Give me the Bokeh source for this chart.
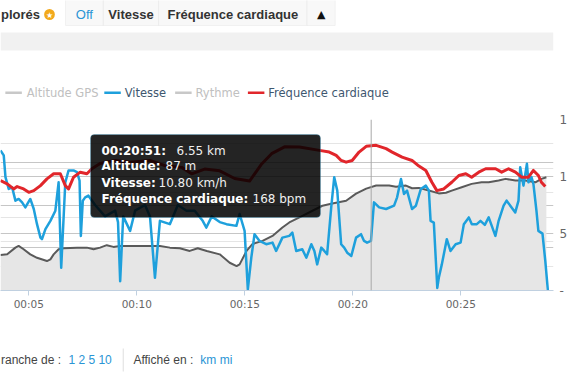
from bokeh.plotting import figure
from bokeh.layouts import column
from bokeh.models import Range1d, FixedTicker, Grid, Label, BoxAnnotation, Span, LinearAxis
from bokeh.embed import file_html
from bokeh.resources import INLINE

# ---------------- data (time in minutes) ----------------
alt_t = [3.69, 4.00, 4.38, 4.53, 4.76, 5.07, 5.38, 5.84, 6.00, 6.15, 6.38, 6.61, 7.23, 7.69, 8.00,
         8.30, 8.61, 8.92, 9.22, 9.84, 10.61, 11.07, 11.53, 11.99, 12.45, 12.82, 13.24, 13.84,
         14.30, 14.62, 14.76, 15.08, 15.36, 15.82, 16.28, 16.74, 17.06, 17.53, 18.13, 18.59,
         19.05, 19.69, 20.15, 20.62, 21.08, 21.68, 22.00, 22.46, 22.74, 23.06, 23.52, 23.98,
         24.31, 24.58, 25.04, 25.50, 25.96, 26.29, 26.75, 27.07, 27.53, 27.99, 28.45, 28.73, 28.96]
alt_m = [29.1, 29.6, 35.1, 36.5, 33.8, 29.6, 26.8, 24.1, 25.5, 29.6, 33.8, 34.6, 35.1, 35.1, 33.8,
         35.1, 37.1, 35.7, 36.5, 36.5, 36.5, 36.5, 35.1, 34.6, 32.4, 34.6, 32.4, 29.6,
         22.7, 20.0, 21.4, 32.4, 38.1, 40.6, 44.7, 51.6, 55.7, 59.8, 65.3, 69.4,
         71.3, 73.5, 79.3, 83.4, 85.9, 85.9, 85.0, 85.9, 83.7, 84.0, 81.8, 79.5,
         80.0, 81.8, 84.5, 87.3, 88.6, 88.6, 90.0, 91.4, 90.0, 90.0, 88.6, 91.4, 92.7]

hr_t = [3.69, 4.00, 4.30, 4.46, 4.76, 5.00, 5.23, 5.54, 5.84, 6.15, 6.46, 6.69, 6.84, 7.07, 7.38,
        7.69, 7.92, 8.30, 9.00, 9.69, 10.61, 11.30, 12.08, 12.54, 13.14, 13.84, 14.53, 15.22,
        15.78, 16.24, 16.84, 17.53, 18.45, 18.91, 19.23, 19.46, 19.69, 19.97, 20.29, 20.62,
        21.08, 21.54, 21.82, 22.28, 22.74, 23.06, 23.38, 23.66, 23.89, 24.21, 24.58, 24.91,
        25.23, 25.50, 25.83, 26.15, 26.61, 26.89, 27.21, 27.53, 27.81, 28.13, 28.36, 28.59,
        28.73, 28.91]
hr_bpm = [128.6, 124.7, 118.8, 121.5, 118.8, 114.8, 116.8, 122.7, 130.6, 136.5, 136.5, 122.7,
          118.8, 132.5, 138.4, 136.5, 142.4, 148.6, 152.0, 150.0, 152.0, 146.0, 144.0, 136.5,
          142.0, 140.0, 131.0, 128.0, 148.0, 160.0, 168.0, 167.8, 163.9, 161.9, 158.0, 152.1,
          150.1, 152.1, 161.9, 168.6, 169.8, 165.9, 161.9, 156.0, 152.1, 145.5, 140.4, 126.6,
          116.8, 118.8, 126.6, 134.5, 136.5, 132.5, 138.4, 142.4, 142.4, 138.4, 142.4, 138.4,
          132.5, 132.5, 140.4, 134.5, 126.6, 121.5]

spd_t = [3.69, 3.84, 3.92, 4.07, 4.23, 4.38, 4.53, 4.69, 4.84, 5.07, 5.23, 5.38, 5.54, 5.61, 5.77,
         6.00, 6.23, 6.38, 6.50, 6.69, 6.84, 7.07, 7.23, 7.35, 7.41, 7.50, 7.61, 7.76, 8.07, 8.53,
         9.00, 9.13, 9.23, 9.37, 9.69, 9.92, 10.38, 10.61, 10.84, 11.07, 11.53, 11.90, 12.30,
         12.68, 13.05, 13.22, 13.47, 13.84, 14.15, 14.61, 14.76, 14.99, 15.14, 15.30, 15.45,
         15.68, 15.99, 16.28, 16.45, 16.74, 17.06, 17.20, 17.38, 17.66, 17.85, 18.08, 18.22,
         18.35, 18.54, 18.68, 18.81, 19.00, 19.14, 19.28, 19.46, 19.60, 19.74, 19.93, 20.15,
         20.38, 20.52, 20.66, 20.84, 20.98, 21.22, 21.54, 21.91, 22.05, 22.23, 22.37, 22.51,
         22.74, 22.92, 23.15, 23.38, 23.52, 23.60, 23.75, 23.91, 23.98, 24.12, 24.35, 24.52,
         24.76, 24.99, 25.14, 25.37, 25.51, 25.74, 25.91, 26.11, 26.29, 26.60, 26.75, 26.98,
         27.12, 27.35, 27.52, 27.67, 27.75, 27.90, 28.06, 28.13, 28.27, 28.36, 28.50, 28.59,
         28.78, 28.91, 29.03]
spd_kmh = [12.29, 11.85, 9.94, 8.91, 9.05, 7.88, 8.03, 7.73, 7.29, 8.03, 7.15, 5.82, 4.64, 4.50, 5.38,
           6.11, 7.00, 9.49, 1.99, 9.49, 10.53, 10.53, 10.38, 9.64, 4.79, 7.88, 8.17, 8.32, 7.5, 6.5,
           7.0, 6.0, 0.82, 6.5, 5.23, 7.0, 7.5, 6.5, 1.11, 6.11, 5.82, 7.5, 7.0,
           7.0, 6.11, 5.52, 6.5, 6.0, 5.82, 5.67, 6.71, 5.23, 0.09, 2.88, 4.94,
           4.35, 4.06, 4.20, 3.47, 4.64, 4.79, 5.08, 3.47, 3.62, 2.88, 4.06, 3.47,
           2.29, 3.76, 3.47, 3.18, 7.29, 9.94, 8.76, 4.06, 3.76, 3.32, 3.03, 4.64,
           4.94, 4.35, 4.20, 4.35, 7.73, 7.29, 7.15, 7.44, 8.17, 9.79, 8.47, 8.76,
           7.15, 7.44, 8.91, 9.20, 8.76, 6.11, 5.96, 0.23, 1.11, 2.29, 4.50, 3.47,
           4.06, 4.20, 5.82, 6.41, 5.82, 5.82, 6.11, 5.76, 6.41, 4.79, 6.11, 7.44,
           7.88, 7.29, 6.85, 7.88, 10.82, 9.20, 11.12, 9.49, 9.94, 9.35, 7.0, 5.23,
           4.99, 2.59, 0.0]

x_tick_vals = [5, 10, 15, 20, 25]
x_tick_labels = ["00:05", "00:10", "00:15", "00:20", "00:25"]
alt_grid_vals = [0, 35, 70, 105, 140]
spd_tick_vals = [0, 5, 10, 15]
spd_tick_labels = ["-", "5", "1", "1"]

legend_names = ["Altitude GPS", "Vitesse", "Rythme", "Fréquence cardiaque"]
legend_active = [False, True, False, True]
legend_colors = ["#c8c8c8", "#1ea0dc", "#c8c8c8", "#e1262b"]

cursor_t = 20 + 51 / 60
tip_keys = ["00:20:51:", "Altitude:", "Vitesse:", "Fréquence cardiaque:"]
tip_vals = ["6.55 km", "87 m", "10.80 km/h", "168 bpm"]

buttons = ["Off", "Vitesse", "Fréquence cardiaque", "▲"]

W = 570
TOP_H = 109      # page rows 0..109
CHART_H = 211    # page rows 109..320 (frame 119..290)
BOT_H = 60       # page rows 320..380


def blank(height, y0):
    f = figure(width=W, height=height, output_backend="svg", toolbar_location=None,
               x_range=Range1d(0, W), y_range=Range1d(y0 + height, y0),
               x_axis_location=None, y_axis_location=None, min_border=0)
    f.outline_line_color = None
    f.grid.visible = False
    f.background_fill_color = "white"
    f.border_fill_color = "white"
    return f


def lab(f, x, y, text, size="12px", color="#333333", font="Liberation Sans", style="normal",
        align="left", units="data"):
    f.add_layout(Label(x=x, y=y, x_units=units, y_units=units, text=text,
                       text_baseline="middle", text_align=align, text_font=font,
                       text_font_size=size, text_color=color, text_font_style=style))


def box(f, l, r, t, b, fill, line=None, alpha=1.0, radius=0, lw=1, units="data"):
    f.add_layout(BoxAnnotation(left=l, right=r, top=t, bottom=b,
                               left_units=units, right_units=units,
                               top_units=units, bottom_units=units,
                               fill_color=fill, fill_alpha=alpha,
                               line_color=line, line_width=lw, border_radius=radius))


# ---------------- header + legend ----------------
top = blank(TOP_H, 0)
box(top, 0, 570, 32, 50, "#f1f1f1")
lab(top, 0.5, 14, "plorés", size="13px", style="bold", color="#333333")
box(top, 45, 56, 8.5, 19.5, "#f2a91c", radius=6)
lab(top, 50.5, 14.5, "★", size="8px", color="white", font="DejaVu Sans", align="center")
btn_edges = [67, 106, 163, 316, 345]
for i, name in enumerate(buttons):
    box(top, btn_edges[i], btn_edges[i + 1], -2, 25, "#f8f8f8", line="#d9d9d9")
for i, name in enumerate(buttons):
    mid = (btn_edges[i] + btn_edges[i + 1]) / 2
    if i == 0:
        lab(top, mid, 13.5, name, size="13px", color="#2a95d5", align="center")
    elif i == 3:
        lab(top, mid, 13.5, name, size="11px", color="#111111", font="DejaVu Sans", align="center")
    else:
        lab(top, mid, 13.5, name, size="13px", color="#333333", style="bold", align="center")

leg_sym = [5, 107, 180, 255]
leg_txt = [27, 128, 201, 276]
for i, name in enumerate(legend_names):
    box(top, leg_sym[i], leg_sym[i] + 17, 91, 93.5, legend_colors[i])
    lab(top, leg_txt[i], 92.5, name, size="11.5px", font="DejaVu Sans",
        color="#3E576F" if legend_active[i] else "#C0C0C0")

# ---------------- chart ----------------
p = figure(width=W, height=CHART_H, output_backend="svg", toolbar_location=None,
           x_range=Range1d(3.69, 29.29), y_range=Range1d(0, 140),
           y_axis_location=None, min_border_left=0, min_border_right=15,
           min_border_top=10, min_border_bottom=30)
p.extra_y_ranges = {"hr": Range1d(0, 200), "spd": Range1d(0, 15)}
p.outline_line_color = None
p.background_fill_color = "white"
p.border_fill_color = "white"
p.xgrid.visible = False

p.add_layout(Grid(dimension=1, ticker=FixedTicker(ticks=alt_grid_vals),
                  grid_line_color="#c6c6c6", grid_line_width=1))
p.add_layout(Grid(dimension=1, ticker=FixedTicker(ticks=spd_tick_vals), y_range_name="spd",
                  grid_line_color="#c6c6c6", grid_line_width=1))

ax = p.xaxis[0]
ax.ticker = FixedTicker(ticks=x_tick_vals)
ax.major_label_overrides = dict(zip(x_tick_vals, x_tick_labels))
ax.axis_line_color = "#C0D0E0"
ax.major_tick_line_color = "#C0D0E0"
ax.major_tick_out = 5
ax.major_tick_in = 0
ax.minor_tick_line_color = None
ax.major_label_text_color = "#666666"
ax.major_label_text_font = "DejaVu Sans"
ax.major_label_text_font_size = "10.5px"
ax.major_label_standoff = 2

ry = LinearAxis(y_range_name="spd", ticker=FixedTicker(ticks=spd_tick_vals),
                major_label_overrides=dict(zip(spd_tick_vals, spd_tick_labels)))
ry.axis_line_color = None
ry.major_tick_line_color = None
ry.minor_tick_line_color = None
ry.major_tick_out = 0
ry.major_tick_in = 0
ry.major_label_standoff = 6
ry.major_label_text_color = "#666666"
ry.major_label_text_font = "DejaVu Sans"
ry.major_label_text_font_size = "12px"
p.add_layout(ry, "right")

p.varea(x=alt_t, y1=0, y2=alt_m, fill_color="#e6e6e6")
p.line(alt_t, alt_m, line_color="#5a5a5a", line_width=2, line_join="round")
p.line(spd_t, spd_kmh, y_range_name="spd", line_color="#1ea0dc", line_width=2.5, line_join="round")
p.line(hr_t, hr_bpm, y_range_name="hr", line_color="#e1262b", line_width=3, line_join="round")

p.add_layout(Span(location=cursor_t, dimension="height", line_color="#a8a8a8", line_width=1))

# tooltip (canvas units of the chart figure: page y - 109)
oy = 109
box(p, 90, 320, 134 - oy, 217 - oy, "black", line="#49b3e3", alpha=0.86, radius=4, units="canvas")
tip_y = [150.5, 165.5, 182, 198.5]
tip_vx = [176, 165, 158, 252]
for i in range(4):
    lab(p, 101, tip_y[i] - oy, tip_keys[i], size="12px", font="DejaVu Sans", style="bold",
        color="#ffffff", units="canvas")
    lab(p, tip_vx[i], tip_y[i] - oy, tip_vals[i], size="12px", font="DejaVu Sans",
        color="#f0f0f0", units="canvas")

# ---------------- footer ----------------
bot = blank(BOT_H, 320)
lab(bot, 0.5, 359, "ranche de :", size="12px", color="#444444")
lab(bot, 70, 359, "1 2 5 10", size="12px", color="#2a95d5")
box(bot, 126, 127, 348, 371, "#dddddd")
lab(bot, 137, 359, "Affiché en :", size="12px", color="#444444")
lab(bot, 206, 359, "km mi", size="12px", color="#2a95d5")

layout = column(top, p, bot, spacing=0)
open("out.html", "w").write(file_html(layout, INLINE))
